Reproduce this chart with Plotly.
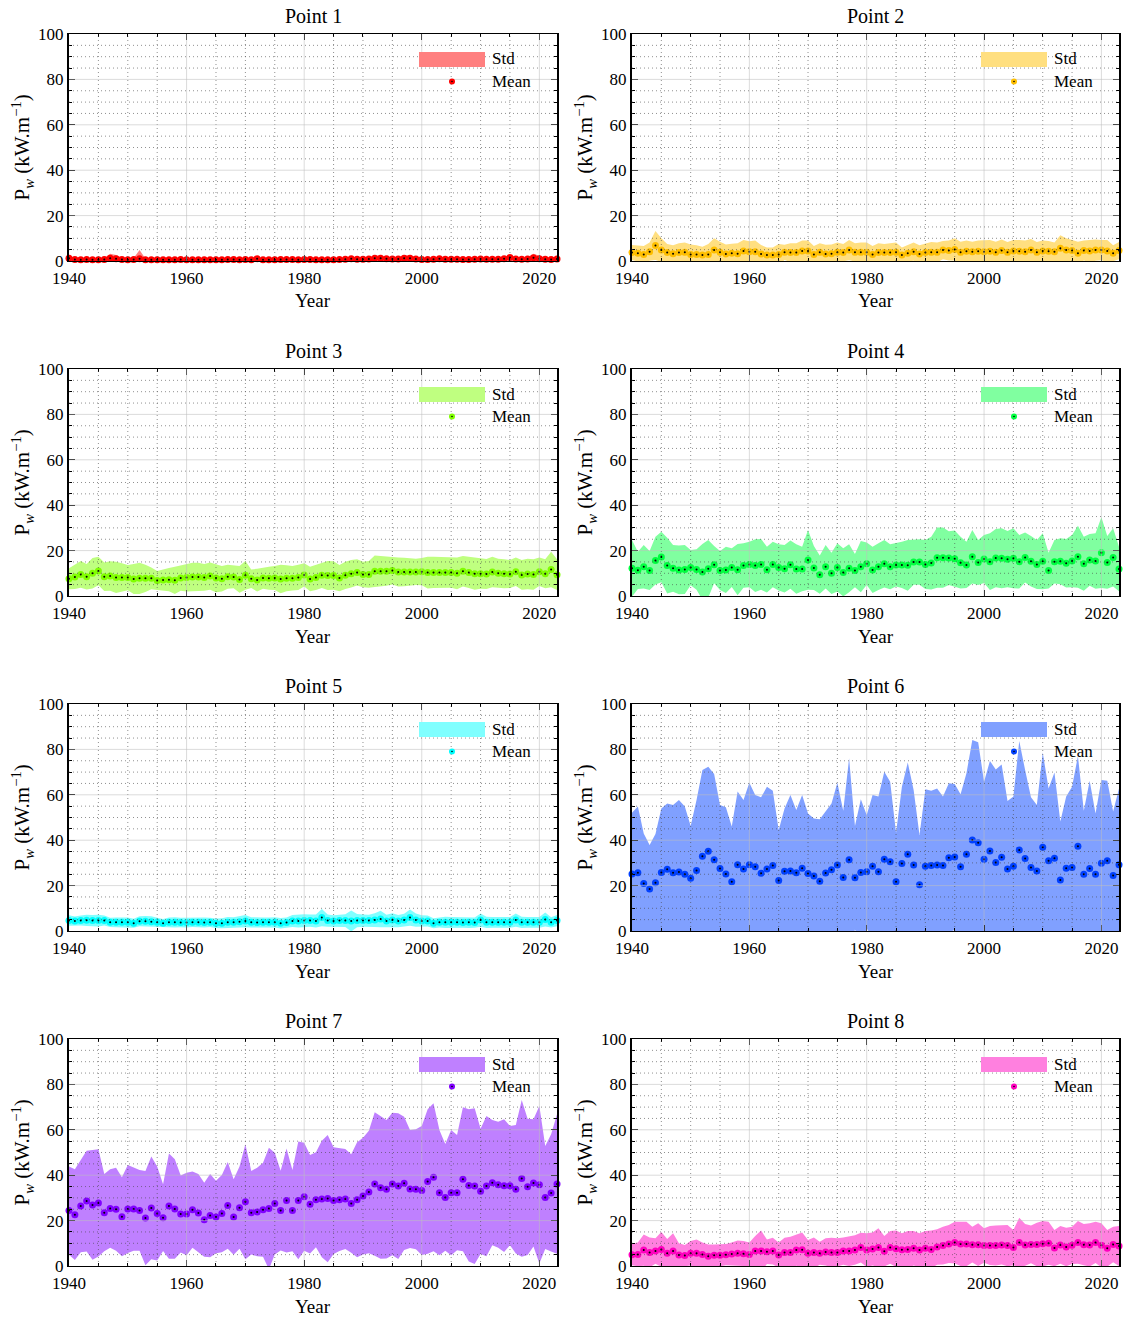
import plotly.graph_objects as go

# ---------------------------------------------------------------------------
# Data: annual mean wave power and its standard deviation at 8 points
# ---------------------------------------------------------------------------
years = list(range(1940, 2024))
point_names = ["Point 1", "Point 2", "Point 3", "Point 4",
               "Point 5", "Point 6", "Point 7", "Point 8"]

mean_p1 = [1.2, 0.7, 0.6, 0.7, 0.6, 0.6, 0.7, 1.2, 1.0, 0.7,
           0.5, 0.7, 1.0, 0.6, 0.5, 0.6, 0.6, 0.6, 0.6, 0.7,
           0.6, 0.6, 0.5, 0.6, 0.6, 0.6, 0.6, 0.7, 0.7, 0.6,
           0.7, 0.6, 1.0, 0.6, 0.6, 0.6, 0.7, 0.7, 0.7, 0.6,
           0.7, 0.7, 0.6, 0.6, 0.6, 0.6, 0.7, 0.8, 1.0, 0.8,
           0.8, 0.9, 1.2, 1.2, 1.0, 0.9, 0.9, 1.2, 1.2, 0.9,
           0.7, 0.7, 0.8, 1.0, 0.8, 0.8, 0.8, 0.7, 0.7, 0.8,
           0.9, 0.8, 0.8, 0.8, 1.0, 1.5, 0.9, 0.8, 0.9, 1.4,
           1.0, 0.8, 0.7, 0.9]
std_p1 = [0.8, 0.4, 0.4, 0.4, 0.4, 0.4, 0.6, 2.0, 1.6, 0.8,
          0.4, 0.6, 3.8, 0.5, 0.4, 0.4, 0.4, 0.4, 0.4, 0.5,
          0.4, 0.4, 0.4, 0.4, 0.4, 0.5, 0.4, 0.5, 0.5, 0.4,
          0.5, 0.4, 0.7, 0.4, 0.4, 0.4, 0.5, 0.5, 0.5, 0.4,
          0.5, 0.5, 0.4, 0.4, 0.4, 0.4, 0.5, 0.8, 0.9, 0.6,
          0.6, 0.8, 1.2, 1.2, 0.9, 0.7, 0.8, 1.3, 1.3, 0.8,
          0.5, 0.5, 0.6, 0.8, 0.6, 0.6, 0.6, 0.5, 0.5, 0.6,
          0.7, 0.6, 0.6, 0.6, 0.8, 1.4, 0.7, 0.6, 0.8, 1.8,
          1.2, 0.6, 0.5, 0.7]

mean_p2 = [3.7, 3.4, 2.9, 4.1, 6.8, 4.8, 3.7, 3.2, 3.7, 3.8,
           2.9, 2.9, 2.6, 2.9, 4.8, 3.8, 3.1, 3.4, 3.2, 4.4,
           4.1, 4.1, 3.1, 2.6, 2.6, 2.9, 3.8, 3.7, 3.7, 4.4,
           4.4, 2.9, 3.8, 3.1, 3.2, 3.8, 3.7, 4.8, 3.8, 3.8,
           3.8, 2.9, 3.7, 3.7, 3.7, 3.8, 2.6, 3.4, 4.1, 3.1,
           3.7, 3.8, 3.8, 4.8, 4.6, 5.1, 3.8, 4.3, 4.1, 4.3,
           4.1, 4.3, 3.8, 4.6, 3.8, 4.4, 4.3, 4.1, 4.8, 3.8,
           4.4, 4.3, 4.1, 5.6, 4.8, 4.6, 3.4, 4.6, 4.4, 4.8,
           4.8, 4.4, 3.4, 4.6]
std_p2 = [3.3, 3.5, 3.7, 4.0, 6.4, 5.2, 3.8, 3.7, 4.1, 4.3,
          4.4, 4.0, 3.7, 4.6, 5.2, 4.7, 4.2, 4.2, 4.6, 4.9,
          4.6, 4.9, 3.9, 3.3, 3.3, 4.6, 3.4, 4.1, 4.1, 4.6,
          4.6, 3.7, 4.0, 4.1, 4.1, 4.4, 3.8, 4.5, 4.0, 4.3,
          4.3, 3.7, 4.1, 3.8, 4.1, 4.3, 3.3, 3.6, 4.0, 3.8,
          4.1, 4.6, 4.4, 4.0, 4.4, 4.9, 4.7, 4.7, 4.4, 4.7,
          5.0, 5.0, 4.7, 4.9, 4.6, 4.9, 5.0, 4.9, 4.9, 4.6,
          4.6, 4.5, 4.0, 5.7, 5.2, 4.7, 5.1, 4.4, 4.9, 4.7,
          4.5, 4.9, 3.5, 3.8]

mean_p3 = [7.6, 8.4, 9.5, 8.5, 10.0, 11.0, 8.5, 8.8, 8.2, 8.2,
           8.1, 7.5, 7.8, 7.8, 7.8, 6.8, 7.0, 7.2, 6.9, 7.9,
           8.2, 8.4, 8.4, 8.2, 8.8, 7.9, 7.6, 8.5, 8.4, 7.3,
           9.1, 7.6, 7.0, 7.9, 7.8, 7.9, 7.5, 7.8, 7.8, 8.2,
           9.3, 7.5, 8.2, 9.1, 9.0, 9.0, 7.9, 9.1, 9.8, 10.4,
           9.5, 9.5, 10.9, 10.9, 10.9, 11.2, 10.6, 10.6, 10.6, 10.6,
           10.7, 10.3, 10.4, 10.4, 10.4, 10.4, 10.0, 10.9, 10.4, 9.8,
           9.8, 9.7, 10.6, 10.0, 9.8, 9.7, 10.7, 9.3, 9.7, 9.5,
           10.7, 9.8, 11.7, 9.4]
std_p3 = [4.6, 5.3, 5.9, 5.6, 6.7, 6.3, 6.3, 6.5, 6.9, 6.2,
          5.6, 6.6, 6.9, 6.0, 4.8, 4.2, 4.5, 5.1, 6.0, 5.6,
          6.2, 6.3, 6.3, 5.9, 6.0, 6.2, 5.6, 5.3, 5.0, 5.9,
          6.3, 4.1, 5.0, 4.7, 5.1, 5.3, 6.3, 5.7, 5.4, 5.6,
          5.1, 5.4, 5.6, 5.6, 6.4, 6.3, 5.8, 6.0, 6.1, 5.8,
          5.6, 5.9, 6.9, 6.7, 6.4, 6.1, 6.4, 6.3, 6.0, 5.8,
          6.0, 7.0, 6.9, 6.9, 6.9, 6.8, 7.0, 6.7, 6.9, 7.1,
          6.6, 6.6, 6.7, 6.4, 6.4, 6.2, 6.3, 6.6, 6.7, 6.7,
          6.3, 6.4, 7.8, 6.8]

mean_p4 = [12.2, 11.3, 12.9, 11.2, 15.6, 17.2, 13.4, 12.2, 11.5, 11.7,
           12.5, 11.7, 10.6, 12.0, 13.8, 11.2, 11.5, 12.5, 11.6, 13.4,
           13.9, 13.4, 13.9, 11.6, 13.9, 12.6, 12.0, 13.8, 11.9, 11.9,
           15.9, 12.3, 9.4, 12.9, 10.0, 12.6, 10.4, 12.2, 11.2, 12.9,
           14.2, 11.5, 12.9, 14.2, 12.9, 13.7, 13.7, 13.5, 15.0, 15.0,
           13.9, 14.5, 16.9, 16.9, 16.7, 16.4, 14.7, 13.7, 17.3, 14.8,
           16.3, 15.1, 16.7, 16.6, 16.2, 16.6, 15.1, 17.0, 15.3, 13.9,
           15.3, 11.2, 15.1, 15.3, 14.4, 15.4, 17.3, 14.2, 15.9, 15.4,
           19.1, 14.8, 17.0, 11.9]
std_p4 = [12.5, 8.2, 9.6, 8.6, 10.5, 11.1, 12.3, 10.3, 10.7, 10.8,
          7.8, 8.9, 12.3, 12.7, 8.2, 8.6, 10.2, 8.5, 11.3, 9.8,
          10.0, 11.6, 11.2, 10.1, 10.0, 10.2, 10.5, 10.6, 10.9, 9.8,
          13.2, 9.7, 8.4, 9.6, 9.1, 10.6, 10.6, 10.6, 7.3, 11.3,
          9.4, 10.2, 10.3, 10.5, 9.9, 9.5, 10.2, 11.2, 10.0, 10.0,
          10.8, 11.6, 13.3, 13.3, 11.8, 12.4, 11.4, 10.2, 11.8, 9.9,
          10.6, 12.5, 12.8, 13.2, 12.4, 13.2, 11.8, 11.0, 11.1, 10.8,
          12.3, 7.9, 9.6, 10.1, 10.7, 11.5, 13.7, 11.9, 11.4, 12.2,
          15.6, 11.6, 12.8, 9.8]

mean_p5 = [4.6, 4.4, 4.6, 4.7, 4.6, 4.6, 4.6, 3.8, 3.8, 3.8,
           3.8, 3.4, 4.3, 4.3, 4.1, 3.8, 3.4, 3.8, 3.8, 3.7,
           3.7, 3.8, 3.8, 3.7, 3.8, 3.4, 3.4, 3.8, 3.8, 4.1,
           4.4, 3.8, 3.7, 3.8, 3.8, 3.8, 3.4, 3.7, 4.4, 4.4,
           4.6, 4.6, 4.4, 5.9, 4.6, 4.4, 4.6, 4.6, 4.4, 4.6,
           4.6, 4.6, 4.8, 5.3, 4.4, 4.8, 4.4, 4.8, 5.9, 4.8,
           4.4, 4.4, 3.4, 3.8, 3.8, 3.8, 3.8, 3.7, 3.8, 3.7,
           4.8, 3.8, 3.8, 3.8, 3.8, 3.8, 4.8, 3.8, 3.8, 3.8,
           3.8, 5.1, 3.8, 4.6]
std_p5 = [2.3, 2.0, 2.2, 2.5, 2.4, 2.6, 2.2, 2.0, 2.2, 2.3,
          2.1, 2.0, 2.2, 2.3, 2.4, 2.0, 1.9, 2.2, 2.3, 2.1,
          2.2, 2.0, 2.1, 2.2, 2.0, 2.1, 2.2, 2.4, 2.3, 2.5,
          2.7, 2.3, 2.2, 2.1, 2.2, 2.3, 2.3, 2.2, 2.6, 2.9,
          2.8, 2.7, 2.9, 3.8, 2.7, 2.5, 2.6, 2.8, 4.6, 2.9,
          2.7, 2.6, 3.0, 3.6, 2.8, 3.0, 2.7, 2.8, 3.6, 2.9,
          2.5, 2.4, 2.2, 2.3, 2.5, 2.4, 2.4, 2.3, 2.5, 2.3,
          2.9, 2.5, 2.4, 2.3, 2.3, 2.4, 2.9, 2.5, 2.4, 2.3,
          2.4, 3.1, 2.3, 2.5]

mean_p6 = [25.1, 25.7, 20.9, 18.5, 21.3, 25.8, 27.2, 25.7, 26.0, 25.0,
           23.2, 26.7, 32.9, 35.1, 31.4, 27.5, 25.1, 21.7, 29.2, 27.3,
           29.2, 28.3, 25.4, 27.3, 28.8, 22.2, 26.3, 26.4, 25.7, 27.6,
           25.3, 24.2, 21.9, 25.6, 27.0, 29.1, 23.6, 31.4, 23.5, 25.8,
           26.1, 28.5, 26.1, 31.6, 30.5, 21.7, 29.7, 33.8, 29.1, 20.4,
           28.5, 28.9, 29.1, 28.8, 32.3, 32.6, 28.3, 33.8, 40.1, 38.9,
           31.6, 35.2, 30.2, 32.5, 27.3, 28.5, 35.7, 31.9, 28.0, 26.4,
           36.9, 31.0, 32.0, 22.5, 27.6, 28.0, 37.3, 25.0, 27.5, 25.0,
           29.8, 31.0, 24.4, 29.2]
std_p6 = [27.0, 29.1, 22.1, 19.4, 21.4, 28.2, 29.0, 29.8, 31.7, 29.8,
          23.1, 31.0, 38.0, 37.3, 37.8, 28.0, 29.4, 24.3, 32.2, 30.4,
          36.1, 31.6, 33.5, 36.3, 33.0, 22.3, 27.7, 33.5, 27.6, 32.3,
          26.5, 25.4, 27.3, 27.0, 29.2, 36.2, 29.4, 44.7, 22.8, 32.2,
          25.0, 31.4, 33.1, 38.6, 35.3, 21.6, 33.9, 40.4, 33.0, 21.9,
          33.9, 32.9, 33.7, 30.4, 32.8, 32.2, 31.9, 35.7, 44.0, 44.2,
          34.2, 39.7, 41.0, 40.9, 30.0, 30.7, 48.0, 39.0, 30.9, 29.1,
          41.7, 31.8, 37.8, 25.7, 31.6, 35.6, 39.8, 28.0, 38.7, 26.8,
          36.7, 35.2, 28.2, 33.6]

mean_p7 = [24.4, 22.6, 26.4, 28.6, 26.9, 27.8, 23.5, 25.3, 25.0, 21.7,
           25.1, 25.1, 24.5, 21.1, 25.6, 23.1, 21.3, 26.4, 25.1, 22.9,
           22.9, 24.8, 23.3, 20.4, 22.2, 21.6, 23.1, 26.7, 21.6, 25.7,
           28.3, 23.5, 23.8, 24.8, 25.3, 27.5, 24.4, 28.9, 24.4, 28.9,
           30.5, 27.2, 29.2, 29.5, 29.7, 28.8, 29.2, 29.5, 27.5, 29.2,
           30.8, 32.6, 36.1, 34.5, 33.8, 36.1, 35.2, 36.4, 33.9, 33.8,
           33.3, 37.2, 39.1, 32.3, 30.2, 32.3, 32.3, 38.2, 35.5, 35.2,
           32.9, 35.2, 36.7, 35.8, 35.4, 35.4, 33.8, 38.6, 34.9, 36.6,
           35.8, 30.2, 32.2, 36.1]
std_p7 = [19.4, 20.0, 20.3, 22.2, 24.2, 23.6, 17.0, 17.3, 18.3, 17.4,
          19.4, 18.4, 17.8, 20.8, 22.6, 20.7, 14.7, 23.2, 21.9, 17.0,
          18.2, 16.8, 17.2, 16.3, 18.3, 16.0, 17.0, 19.1, 16.6, 18.1,
          25.3, 18.4, 19.5, 20.7, 26.8, 22.4, 17.6, 22.9, 17.9, 25.9,
          23.8, 21.7, 20.9, 25.7, 28.0, 23.5, 22.6, 22.0, 21.7, 25.3,
          25.7, 27.0, 31.6, 31.3, 30.5, 31.4, 32.1, 29.4, 26.0, 26.4,
          28.4, 31.8, 32.6, 27.6, 23.5, 27.6, 25.4, 31.7, 33.5, 34.3,
          27.6, 30.9, 27.6, 27.8, 29.2, 26.3, 28.3, 34.5, 30.0, 28.0,
          34.7, 22.7, 25.8, 30.7]

mean_p8 = [5.0, 5.1, 7.0, 6.0, 6.6, 7.3, 5.6, 6.6, 4.8, 4.6,
           5.6, 5.6, 5.1, 4.3, 4.7, 4.7, 5.0, 5.3, 5.6, 5.4,
           5.1, 6.6, 6.6, 6.3, 6.6, 4.8, 6.0, 5.9, 7.0, 7.2,
           5.6, 5.9, 5.6, 6.2, 6.0, 6.0, 6.6, 6.6, 7.0, 8.1,
           7.0, 7.5, 8.1, 6.5, 8.2, 7.6, 7.2, 7.3, 7.8, 7.0,
           7.8, 7.3, 8.4, 9.0, 9.7, 10.3, 9.7, 9.7, 9.4, 9.4,
           9.0, 9.0, 9.0, 9.3, 9.0, 8.1, 10.4, 9.3, 9.5, 9.5,
           9.8, 10.0, 7.9, 9.3, 8.4, 9.1, 10.4, 9.4, 9.3, 10.4,
           9.1, 7.8, 9.5, 8.8]
std_p8 = [4.7, 5.2, 6.9, 6.6, 5.6, 7.7, 6.3, 7.8, 5.2, 4.7,
          5.4, 6.1, 5.2, 5.2, 4.8, 4.8, 4.7, 5.1, 5.6, 5.6,
          5.2, 6.6, 9.0, 5.4, 5.9, 5.5, 6.5, 7.0, 6.9, 7.6,
          5.9, 6.7, 5.1, 6.0, 6.5, 6.2, 6.0, 6.6, 6.5, 6.6,
          7.4, 7.3, 8.5, 6.7, 7.2, 8.0, 7.2, 8.1, 7.6, 7.4,
          7.6, 8.3, 7.8, 8.3, 8.4, 9.2, 9.7, 9.8, 7.9, 9.4,
          7.6, 8.6, 8.8, 8.6, 9.1, 7.8, 10.9, 9.2, 8.3, 9.6,
          10.0, 9.5, 8.0, 8.3, 8.5, 8.2, 9.4, 9.1, 9.5, 9.1,
          9.7, 8.1, 7.8, 8.8]

means = [mean_p1, mean_p2, mean_p3, mean_p4, mean_p5, mean_p6, mean_p7, mean_p8]
stds = [std_p1, std_p2, std_p3, std_p4, std_p5, std_p6, std_p7, std_p8]

x_ticks = [1940, 1960, 1980, 2000, 2020]
y_ticks = [0, 20, 40, 60, 80, 100]

# ---------------------------------------------------------------------------
# Styling
# ---------------------------------------------------------------------------
marker_colors = ["#FF0000", "#FFBF00", "#80FF00", "#00FF40",
                 "#00FFFF", "#0040FF", "#8000FF", "#FF00BF"]
band_colors = ["#FF8080", "#FFDF80", "#BFFF80", "#80FFA0",
               "#80FFFF", "#80A0FF", "#BF80FF", "#FF80DF"]

FONT = "Liberation Serif"
W, H = 1123, 1318
col_px = [(69, 557), (632, 1119)]
row_px = [(34, 261), (369, 596), (704, 931), (1039, 1266)]

MAJOR_GRID = "rgba(190,190,190,0.55)"
MINOR_GRID = "rgba(70,70,70,0.6)"


def px_x(v):
    return v / W


def px_y(v):
    return 1 - v / H


fig = go.Figure()
shapes = []
annotations = []
layout = dict(
    width=W, height=H,
    margin=dict(l=0, r=0, t=0, b=0, pad=0, autoexpand=False),
    paper_bgcolor="white", plot_bgcolor="white",
    font=dict(family=FONT, color="black"),
    showlegend=False,
)

for i in range(8):
    n = i + 1
    r, c = divmod(i, 2)
    x0p, x1p = col_px[c]
    y0p, y1p = row_px[r]
    xref = "x" if n == 1 else f"x{n}"
    yref = "y" if n == 1 else f"y{n}"
    xkey = "xaxis" if n == 1 else f"xaxis{n}"
    ykey = "yaxis" if n == 1 else f"yaxis{n}"

    mean = means[i]
    std = stds[i]
    lower = [m - s for m, s in zip(mean, std)]
    upper = [m + s for m, s in zip(mean, std)]

    # std band: lower edge, then upper edge filled down to it
    fig.add_trace(go.Scatter(
        x=years, y=lower, mode="lines", line=dict(width=0, color=band_colors[i]),
        hoverinfo="skip", xaxis=xref, yaxis=yref))
    fig.add_trace(go.Scatter(
        x=years, y=upper, mode="lines", line=dict(width=0, color=band_colors[i]),
        fill="tonexty", fillcolor=band_colors[i], name="Std",
        xaxis=xref, yaxis=yref))
    # annual means: coloured disc with a black centre dot
    fig.add_trace(go.Scatter(
        x=years, y=mean, mode="markers",
        marker=dict(size=7, color=marker_colors[i], line=dict(width=0)),
        name="Mean", cliponaxis=False, xaxis=xref, yaxis=yref))
    fig.add_trace(go.Scatter(
        x=years, y=mean, mode="markers",
        marker=dict(size=2, color="black", line=dict(width=0)),
        hoverinfo="skip", cliponaxis=False, xaxis=xref, yaxis=yref))

    layout[xkey] = dict(
        domain=[px_x(x0p), px_x(x1p)], anchor=yref, range=[1940, 2023],
        tickmode="array", tickvals=x_ticks, ticks="inside", ticklen=6,
        tickcolor="black", tickwidth=1, ticklabelstandoff=2,
        minor=dict(dtick=5, tick0=1940, ticks="inside", ticklen=3,
                   tickcolor="black", showgrid=False),
        showline=True, linecolor="black", linewidth=1, mirror="allticks",
        showgrid=False, zeroline=False, layer="above traces", automargin=False,
        tickfont=dict(family=FONT, size=17, color="black"), fixedrange=True)
    layout[ykey] = dict(
        domain=[px_y(y1p), px_y(y0p)], anchor=xref, range=[0, 100],
        tickmode="array", tickvals=y_ticks, ticks="inside", ticklen=6,
        tickcolor="black", tickwidth=1,
        minor=dict(dtick=5, tick0=0, ticks="inside", ticklen=3,
                   tickcolor="black", showgrid=False),
        showline=True, linecolor="black", linewidth=2, mirror="allticks",
        showgrid=False, zeroline=False, layer="above traces", automargin=False,
        tickfont=dict(family=FONT, size=17, color="black"), fixedrange=True)

    # grid drawn on top of the data
    for yr in range(1945, 2023, 5):
        major = yr % 20 == 0
        shapes.append(dict(
            type="line", xref=xref, yref=yref, x0=yr, x1=yr, y0=0, y1=100,
            layer="above",
            line=dict(color=MAJOR_GRID if major else MINOR_GRID, width=1,
                      dash="solid" if major else "1px,3px")))
    for v in range(5, 100, 5):
        major = v % 20 == 0
        shapes.append(dict(
            type="line", xref=xref, yref=yref, x0=1940, x1=2023, y0=v, y1=v,
            layer="above",
            line=dict(color=MAJOR_GRID if major else MINOR_GRID, width=1,
                      dash="solid" if major else "1px,3px")))

    # legend box: Std swatch and Mean marker
    shapes.append(dict(
        type="rect", xref="paper", yref="paper",
        x0=px_x(x1p - 138), x1=px_x(x1p - 72),
        y0=px_y(y0p + 33), y1=px_y(y0p + 18),
        fillcolor=band_colors[i], line=dict(width=0), layer="above"))
    mx, my = x1p - 105, y0p + 47.5
    shapes.append(dict(
        type="circle", xref="paper", yref="paper",
        x0=px_x(mx - 3), x1=px_x(mx + 3), y0=px_y(my + 3), y1=px_y(my - 3),
        fillcolor=marker_colors[i], line=dict(width=0), layer="above"))
    shapes.append(dict(
        type="circle", xref="paper", yref="paper",
        x0=px_x(mx - 0.8), x1=px_x(mx + 0.8), y0=px_y(my + 0.8), y1=px_y(my - 0.8),
        fillcolor="black", line=dict(width=0), layer="above"))
    annotations.append(dict(
        text="Std", xref="paper", yref="paper",
        x=px_x(x1p - 67), y=px_y(y0p + 25), xanchor="left", yanchor="middle",
        showarrow=False, font=dict(family=FONT, size=17, color="black")))
    annotations.append(dict(
        text="Mean", xref="paper", yref="paper",
        x=px_x(x1p - 67), y=px_y(my), xanchor="left", yanchor="middle",
        showarrow=False, font=dict(family=FONT, size=17, color="black")))

    cx = (x0p + x1p) / 2
    annotations.append(dict(
        text=point_names[i], xref="paper", yref="paper",
        x=px_x(cx), y=px_y(y0p - 18), xanchor="center", yanchor="middle",
        showarrow=False, font=dict(family=FONT, size=20, color="black")))
    annotations.append(dict(
        text="Year", xref="paper", yref="paper",
        x=px_x(cx), y=px_y(y1p + 40), xanchor="center", yanchor="middle",
        showarrow=False, font=dict(family=FONT, size=19, color="black")))
    annotations.append(dict(
        text="P<sub><i>w</i></sub> (kW.m<sup>\u22121</sup>)",
        xref="paper", yref="paper", textangle=-90,
        x=px_x(x0p - 47), y=px_y((y0p + y1p) / 2),
        xanchor="center", yanchor="middle",
        showarrow=False, font=dict(family=FONT, size=21, color="black")))

layout["shapes"] = shapes
layout["annotations"] = annotations
fig.update_layout(**layout)

fig.write_html("out.html")
